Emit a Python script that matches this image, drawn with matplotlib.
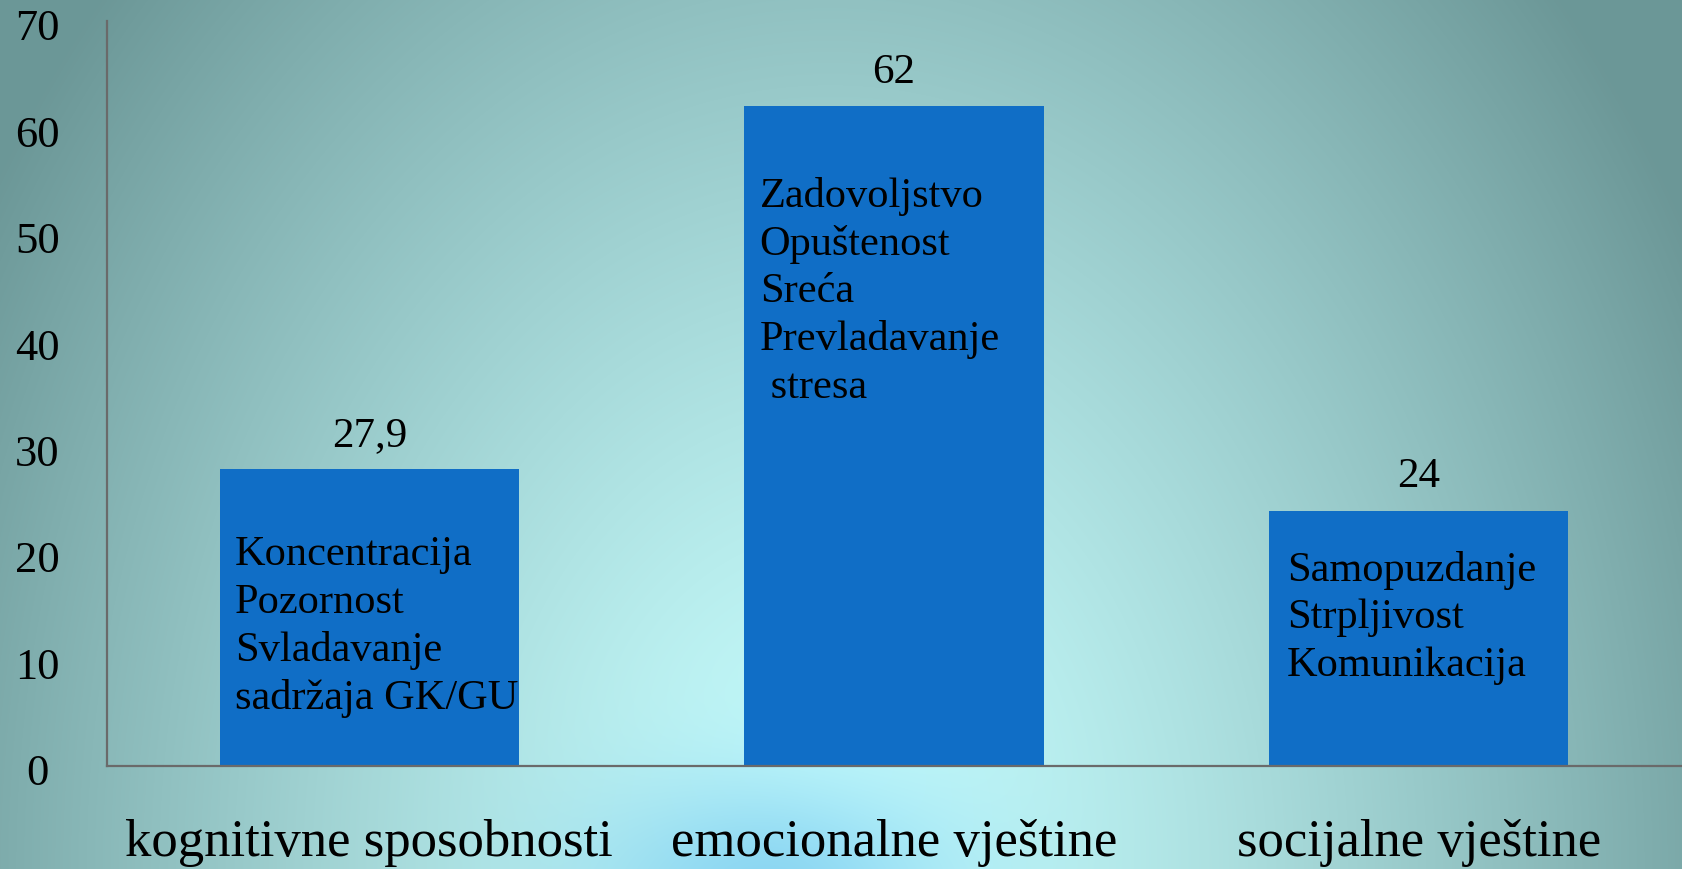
import numpy as np
import matplotlib
matplotlib.use("Agg")
import matplotlib.pyplot as plt
import matplotlib.transforms as mtransforms

categories = ["kognitivne sposobnosti", "emocionalne vještine", "socijalne vještine"]
values = [27.9, 62, 24]
value_labels = ["27,9", "62", "24"]
bar_texts = [
    "Koncentracija\nPozornost\nSvladavanje\nsadržaja GK/GU",
    "Zadovoljstvo\nOpuštenost\nSreća\nPrevladavanje\n stresa",
    "Samopuzdanje\nStrpljivost\nKomunikacija",
]
yticks = [0, 10, 20, 30, 40, 50, 60, 70]

W, H, DPI = 1683, 869, 100
FONT = "Liberation Serif"
BAR_COLOR = "#106EC6"

fig = plt.figure(figsize=(W / DPI, H / DPI), dpi=DPI)

# background gradient
yy, xx = np.mgrid[0:H, 0:W]
d = np.sqrt(((xx - 830) / 950.0) ** 2 + ((yy - 869) / 1250.0) ** 2)
d = np.clip(d, 0, 1.1)
c0 = np.array([200, 255, 255]) / 255.0
c1 = np.array([112, 156, 156]) / 255.0
t = np.clip(d[..., None] ** 1.3, 0, 1.05)
img = np.clip(c0 * (1 - t) + c1 * t, 0, 1)
# blue glow at bottom centre
g = np.exp(-(((xx - 770) / 190.0) ** 2 + ((yy - 885) / 110.0) ** 2))
blue = np.array([130, 208, 240]) / 255.0
img = img * (1 - 0.85 * g[..., None]) + blue * 0.85 * g[..., None]

bg = fig.add_axes([0, 0, 1, 1], zorder=-10)
bg.imshow(img, aspect="auto", extent=[0, 1, 0, 1], origin="upper")
bg.axis("off")

ax = fig.add_axes([107 / W, (H - 766) / H, (1681 - 107) / W, (766 - 21) / H])
ax.patch.set_alpha(0)

x = np.arange(len(categories))
bar_w = 0.57
bars = ax.bar(x, values, width=bar_w, color=BAR_COLOR, zorder=2)

ax.set_xlim(-0.5, len(categories) - 0.5)
ax.set_ylim(0, 70)
ax.set_yticks(yticks)
ax.set_yticklabels([str(v) for v in yticks], fontsize=32, family=FONT,
                   va="center")
ax.tick_params(axis="y", length=0, pad=50)
shift = mtransforms.ScaledTranslation(0, -6 / 72, fig.dpi_scale_trans)
for lab in ax.get_yticklabels():
    lab.set_horizontalalignment("center")
    lab.set_transform(lab.get_transform() + shift)
ax.set_xticks(x)
ax.set_xticklabels(categories, fontsize=38, family=FONT)
ax.tick_params(axis="x", length=0, pad=38)

for s in ["top", "right"]:
    ax.spines[s].set_visible(False)
for s in ["left", "bottom"]:
    ax.spines[s].set_color("#6A6A6A")
    ax.spines[s].set_linewidth(1.6)

# value labels
for xi, v, lab in zip(x, values, value_labels):
    ax.annotate(lab, xy=(xi, v), xytext=(0, 24), textcoords="offset points",
                ha="center", va="center", fontsize=31, family=FONT, color="black")

# text inside bars
inner_dy = [48, 51, 29]  # points below bar top
inner_dx = [11, 11, 13]
for xi, v, txt, dy, dx in zip(x, values, bar_texts, inner_dy, inner_dx):
    ax.annotate(txt, xy=(xi - bar_w / 2, v), xytext=(dx, -dy), textcoords="offset points",
                ha="left", va="top", fontsize=30.5, family=FONT, color="black",
                linespacing=1.3, zorder=3)

fig.savefig("out.png", dpi=DPI)
